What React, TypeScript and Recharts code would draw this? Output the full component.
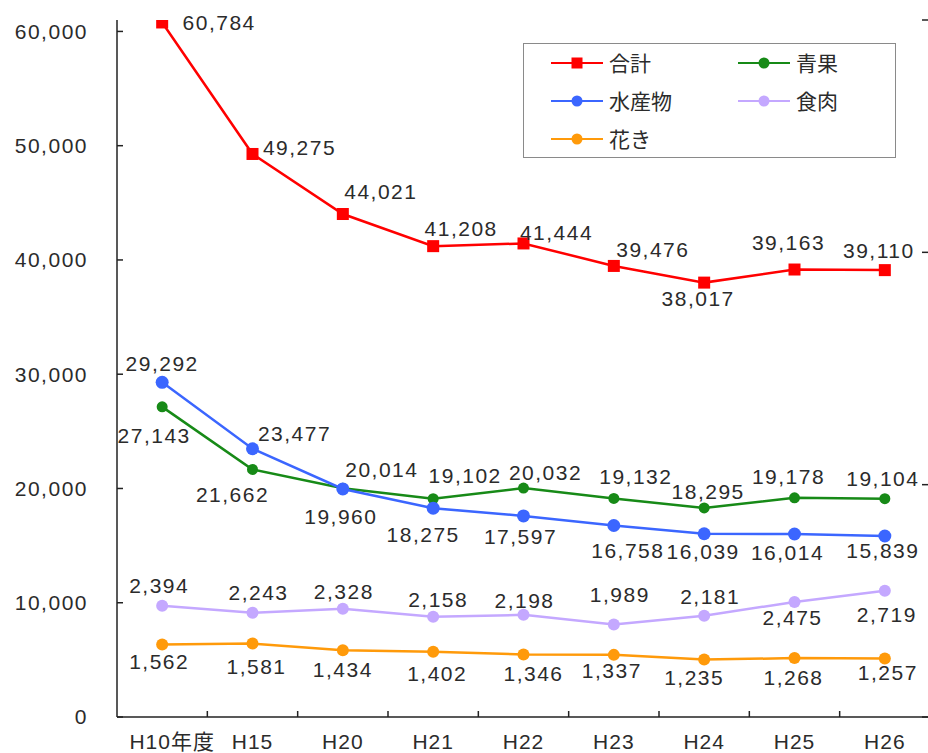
import React from 'react';
import { ComposedChart, Line, XAxis, YAxis, Legend } from 'recharts';

// 年度
const years = ['H10年度', 'H15', 'H20', 'H21', 'H22', 'H23', 'H24', 'H25', 'H26'];

// 取扱数量 (left axis)
const total = [60784, 49275, 44021, 41208, 41444, 39476, 38017, 39163, 39110];
const produce = [27143, 21662, 20014, 19102, 20032, 19132, 18295, 19178, 19104];
const seafood = [29292, 23477, 19960, 18275, 17597, 16758, 16039, 16014, 15839];
// 取扱数量 (right axis)
const meat = [2394, 2243, 2328, 2158, 2198, 1989, 2181, 2475, 2719];
const flowers = [1562, 1581, 1434, 1402, 1346, 1337, 1235, 1268, 1257];

const seriesOrder = ['合計', '青果', '水産物', '食肉', '花き'];
const leftTicks = [0, 10000, 20000, 30000, 40000, 50000, 60000];
const rightTicks = [0, 5000, 10000, 15000];

// offset [dx, dy] from each point to the centre of its value label
const totalLabelPos = [[57, 0], [47, -6], [38, -23], [28, -18], [33, -11], [39, -16], [-6, 16], [-6, -27], [-6, -20]];
const produceLabelPos = [[-8, 29], [-20, 25], [39, -19], [32, -23], [22, -16], [22, -22], [4, -16], [-6, -21], [-2, -20]];
const seafoodLabelPos = [[0, -19], [42, -15], [-2, 28], [-10, 26], [-3, 21], [14, 25], [-1, 18], [-7, 18], [-2, 14]];
const meatLabelPos = [[-3, -20], [6, -20], [1, -17], [5, -17], [1, -14], [6, -30], [6, -19], [-2, 16], [2, 24]];
const flowerLabelPos = [[-3, 17], [4, 23], [0, 19], [4, 22], [10, 19], [-2, 16], [-10, 18], [-1, 19], [3, 14]];

const data = years.map((year, i) => ({
  year,
  total: total[i],
  produce: produce[i],
  seafood: seafood[i],
  meat: meat[i],
  flowers: flowers[i],
}));

const FONT = '"Liberation Sans", "Noto Sans CJK JP", sans-serif';
const TEXT = '#2b2b2b';
const fmt = (v: number) => v.toLocaleString('en-US');

const valueLabel = (pos: number[][]) => (props: any) => {
  const { index, value } = props;
  const x = props.x ?? props.viewBox?.x;
  const y = props.y ?? props.viewBox?.y;
  const [dx, dy] = pos[index] || [0, -18];
  return (
    <text
      key={`lbl-${index}`}
      x={x + dx}
      y={y + dy}
      textAnchor="middle"
      dominantBaseline="central"
      fontSize={21}
      letterSpacing={1.5}
      fontFamily={FONT}
      fill={TEXT}
    >
      {fmt(value)}
    </text>
  );
};

const squareDot = (props: any) => {
  const { cx, cy, index } = props;
  return <rect key={`sq-${index}`} x={cx - 6} y={cy - 6} width={12} height={12} fill="#ff0000" />;
};

// category label plus a small inward tick on the boundary between categories
const CategoryTick = (props: any) => {
  const { x, y, payload, index } = props;
  const half = payload?.offset || 45;
  return (
    <g>
      <line x1={x + half} x2={x + half} y1={y} y2={y - 6} stroke="#222" strokeWidth={1.5} />
      <text
        x={x + (index === 0 ? 10 : 0)}
        y={y + 24}
        textAnchor="middle"
        dominantBaseline="central"
        fontSize={21}
        letterSpacing={1}
        fontFamily={FONT}
        fill={TEXT}
      >
        {payload.value}
      </text>
    </g>
  );
};

const renderLegend = (props: any) => {
  const items = [...(props.payload || [])].sort(
    (a: any, b: any) => seriesOrder.indexOf(a.value) - seriesOrder.indexOf(b.value)
  );
  return (
    <div
      style={{
        boxSizing: 'border-box',
        width: 373,
        height: 115,
        border: '1.5px solid #8a8a8a',
        background: '#fff',
        display: 'grid',
        gridTemplateColumns: '187px 1fr',
        gridAutoRows: '38px',
        paddingLeft: 27,
      }}
    >
      {items.map((it: any) => (
        <div key={it.value} style={{ display: 'flex', alignItems: 'center' }}>
          <svg width={52} height={14}>
            <line x1={0} x2={52} y1={7} y2={7} stroke={it.color} strokeWidth={2} />
            {it.type === 'square' ? (
              <rect x={20.5} y={1.5} width={11} height={11} fill={it.color} />
            ) : (
              <circle cx={26} cy={7} r={5.5} fill={it.color} />
            )}
          </svg>
          <span style={{ marginLeft: 6, fontSize: 21, fontFamily: FONT, color: TEXT, lineHeight: 1 }}>
            {it.value}
          </span>
        </div>
      ))}
    </div>
  );
};

export default function App() {
  return (
    <div
      style={{
        position: 'fixed',
        left: 0,
        top: 0,
        width: 928,
        height: 753,
        overflow: 'hidden',
        background: '#fff',
      }}
    >
      <ComposedChart width={930} height={753} data={data} margin={{ top: 20, right: 0, bottom: 0, left: 0 }}>
        <XAxis
          dataKey="year"
          scale="band"
          interval={0}
          height={36}
          tickSize={0}
          tickMargin={0}
          tickLine={false}
          axisLine={{ stroke: '#222', strokeWidth: 1.5 }}
          tick={<CategoryTick />}
        />
        <YAxis
          yAxisId="left"
          domain={[0, 61000]}
          ticks={leftTicks}
          interval={0}
          allowDataOverflow
          width={117}
          tickSize={-6}
          tickMargin={35}
          axisLine={{ stroke: '#222', strokeWidth: 1.5 }}
          tickLine={{ stroke: '#222', strokeWidth: 1.5 }}
          tick={{ fontSize: 21, fill: TEXT, fontFamily: FONT, letterSpacing: 1.5 }}
          tickFormatter={fmt}
        />
        <YAxis
          yAxisId="right"
          orientation="right"
          mirror
          domain={[0, 15000]}
          ticks={rightTicks}
          interval={0}
          allowDataOverflow
          width={1}
          tickSize={8}
          axisLine={{ stroke: '#222', strokeWidth: 1.5 }}
          tickLine={{ stroke: '#222', strokeWidth: 1.5 }}
          tick={() => <g />}
        />
        <Legend
          verticalAlign="middle"
          layout="horizontal"
          wrapperStyle={{ left: 523, top: 43, width: 373, height: 115 }}
          content={renderLegend}
        />
        <Line
          yAxisId="left"
          dataKey="total"
          name="合計"
          stroke="#ff0000"
          strokeWidth={2.5}
          dot={squareDot}
          activeDot={false}
          legendType="square"
          label={valueLabel(totalLabelPos)}
          isAnimationActive={false}
        />
        <Line
          yAxisId="left"
          dataKey="produce"
          name="青果"
          stroke="#178a17"
          strokeWidth={2.5}
          dot={{ r: 5.5, fill: '#178a17', stroke: 'none' }}
          activeDot={false}
          legendType="circle"
          label={valueLabel(produceLabelPos)}
          isAnimationActive={false}
        />
        <Line
          yAxisId="left"
          dataKey="seafood"
          name="水産物"
          stroke="#3b66ff"
          strokeWidth={2.5}
          dot={{ r: 6.5, fill: '#3b66ff', stroke: 'none' }}
          activeDot={false}
          legendType="circle"
          label={valueLabel(seafoodLabelPos)}
          isAnimationActive={false}
        />
        <Line
          yAxisId="right"
          dataKey="meat"
          name="食肉"
          stroke="#c4a8ff"
          strokeWidth={2.5}
          dot={{ r: 6, fill: '#c4a8ff', stroke: 'none' }}
          activeDot={false}
          legendType="circle"
          label={valueLabel(meatLabelPos)}
          isAnimationActive={false}
        />
        <Line
          yAxisId="right"
          dataKey="flowers"
          name="花き"
          stroke="#ff9a0a"
          strokeWidth={2.5}
          dot={{ r: 6, fill: '#ff9a0a', stroke: 'none' }}
          activeDot={false}
          legendType="circle"
          label={valueLabel(flowerLabelPos)}
          isAnimationActive={false}
        />
      </ComposedChart>
    </div>
  );
}
